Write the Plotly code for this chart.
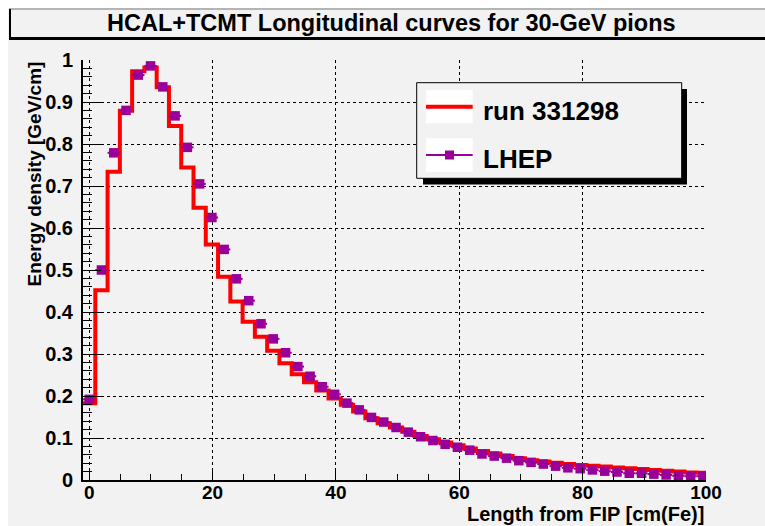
import plotly.graph_objects as go
import numpy as np

# ---------------- data ----------------
depth = [0.00, 1.99, 3.98, 5.97, 7.96, 9.95, 11.94, 13.93, 15.92, 17.91,
         19.90, 21.89, 23.88, 25.87, 27.86, 29.85, 31.84, 33.83, 35.82, 37.81,
         39.80, 41.79, 43.78, 45.77, 47.76, 49.75, 51.74, 53.73, 55.72, 57.71,
         59.70, 61.69, 63.68, 65.67, 67.66, 69.65, 71.64, 73.63, 75.62, 77.61,
         79.60, 81.59, 83.58, 85.57, 87.56, 89.55, 91.54, 93.53, 95.52, 97.51,
         99.50]

run_331298 = [0.183, 0.452, 0.734, 0.879, 0.973, 0.982, 0.935, 0.843, 0.744, 0.648,
              0.561, 0.484, 0.425, 0.377, 0.341, 0.308, 0.278, 0.252, 0.233, 0.213,
              0.194, 0.179, 0.163, 0.147, 0.135, 0.125, 0.115, 0.105, 0.097, 0.089,
              0.083, 0.075, 0.069, 0.063, 0.057, 0.052, 0.047, 0.044, 0.041, 0.038,
              0.036, 0.034, 0.032, 0.030, 0.028, 0.026, 0.024, 0.022, 0.020, 0.018,
              0.017]

lhep = [0.192, 0.500, 0.779, 0.880, 0.964, 0.986, 0.936, 0.867, 0.792, 0.705,
        0.625, 0.549, 0.479, 0.427, 0.372, 0.336, 0.303, 0.270, 0.247, 0.222,
        0.204, 0.183, 0.167, 0.149, 0.138, 0.125, 0.114, 0.103, 0.094, 0.085,
        0.078, 0.071, 0.062, 0.057, 0.052, 0.046, 0.042, 0.038, 0.033, 0.029,
        0.027, 0.024, 0.021, 0.019, 0.016, 0.016, 0.014, 0.012, 0.010, 0.009,
        0.009]

x_ticks = [0, 20, 40, 60, 80, 100]
x_ticktext = ["0", "20", "40", "60", "80", "100"]
y_ticks = [0, 0.1, 0.2, 0.3, 0.4, 0.5, 0.6, 0.7, 0.8, 0.9, 1.0]
y_ticktext = ["0", "0.1", "0.2", "0.3", "0.4", "0.5", "0.6", "0.7", "0.8", "0.9", "1"]

title_text = "HCAL+TCMT Longitudinal curves for 30-GeV pions"
x_title = "Length from FIP [cm(Fe)]"
y_title = "Energy density [GeV/cm]"
legend_names = ["run 331298", "LHEP"]

# ---------------- layout geometry ----------------
W, H = 765, 526
L, R, T, B = 83, 706, 60, 480   # plot area in pixels
GRAY = "#f2f2f2"
PURPLE = "#990099"
FONT = "Liberation Sans"


def px(x):
    return (x - L) / (R - L)


def py(y):
    return (B - y) / (B - T)


# histogram edges from the bin centres
d = np.array(depth)
mids = (d[:-1] + d[1:]) / 2
half = (d[1] - d[0]) / 2
edges = np.concatenate([[d[0] - half], mids, [d[-1] + half]])
yr = list(run_331298) + [run_331298[-1]]

fig = go.Figure()
fig.add_trace(go.Scatter(
    x=edges, y=yr, mode="lines", line=dict(color="red", width=4, shape="hv"),
    showlegend=False, hoverinfo="skip"))
fig.add_trace(go.Scatter(
    x=depth, y=lhep, mode="markers",
    marker=dict(symbol="square", size=9.5, color=PURPLE, line=dict(width=0)),
    error_x=dict(type="data", array=[half] * len(depth), color=PURPLE,
                 thickness=2, width=0),
    showlegend=False))

shapes = []
# white strips on top / left
shapes.append(dict(type="rect", xref="paper", yref="paper", x0=px(0), x1=px(W), y0=py(0), y1=py(8),
                   fillcolor="white", line=dict(width=0), layer="above"))
shapes.append(dict(type="rect", xref="paper", yref="paper", x0=px(0), x1=px(8), y0=py(H), y1=py(0),
                   fillcolor="white", line=dict(width=0), layer="above"))
# title box
shapes.append(dict(type="line", xref="paper", yref="paper", x0=px(9), x1=px(W + 5), y0=py(9), y1=py(9),
                   line=dict(color="#777777", width=1)))
shapes.append(dict(type="line", xref="paper", yref="paper", x0=px(10), x1=px(10), y0=py(9), y1=py(39),
                   line=dict(color="black", width=2)))
shapes.append(dict(type="line", xref="paper", yref="paper", x0=px(9), x1=px(W + 5), y0=py(38.5), y1=py(38.5),
                   line=dict(color="black", width=3)))
# legend shadow + box
shapes.append(dict(type="rect", xref="paper", yref="paper", x0=px(423), x1=px(687), y0=py(184.5), y1=py(89),
                   fillcolor="black", line=dict(width=0)))
shapes.append(dict(type="rect", xref="paper", yref="paper", x0=px(416.7), x1=px(681.7), y0=py(178.3), y1=py(82.7),
                   fillcolor=GRAY, line=dict(color="black", width=1)))
shapes.append(dict(type="rect", xref="paper", yref="paper", x0=px(426), x1=px(472.7), y0=py(123.3), y1=py(90),
                   fillcolor="white", line=dict(width=0)))
shapes.append(dict(type="rect", xref="paper", yref="paper", x0=px(426), x1=px(472.7), y0=py(171.7), y1=py(138.3),
                   fillcolor="white", line=dict(width=0)))
shapes.append(dict(type="line", xref="paper", yref="paper", x0=px(426), x1=px(472.7), y0=py(106.7), y1=py(106.7),
                   line=dict(color="red", width=4)))
shapes.append(dict(type="line", xref="paper", yref="paper", x0=px(426), x1=px(472.7), y0=py(155), y1=py(155),
                   line=dict(color=PURPLE, width=2)))
shapes.append(dict(type="rect", xref="paper", yref="paper", x0=px(445), x1=px(454), y0=py(159.5), y1=py(150.5),
                   fillcolor=PURPLE, line=dict(width=0)))

annotations = [
    dict(text=title_text, xref="paper", yref="paper", x=px(391), y=py(22.5),
         xanchor="center", yanchor="middle", showarrow=False,
         font=dict(family=FONT, size=23.5, color="black", weight="bold")),
    dict(text=y_title, xref="paper", yref="paper", x=px(34), y=1.0, textangle=-90,
         xanchor="center", yanchor="top", showarrow=False,
         font=dict(family=FONT, size=19, color="black", weight="bold")),
    dict(text=x_title, xref="paper", yref="paper", x=1.0, y=py(514),
         xanchor="right", yanchor="middle", showarrow=False,
         font=dict(family=FONT, size=20, color="black", weight="bold")),
    dict(text=legend_names[0], xref="paper", yref="paper", x=px(481), y=py(111),
         xanchor="left", yanchor="middle", showarrow=False,
         font=dict(family=FONT, size=26, color="black", weight="bold")),
    dict(text=legend_names[1], xref="paper", yref="paper", x=px(481), y=py(159),
         xanchor="left", yanchor="middle", showarrow=False,
         font=dict(family=FONT, size=26, color="black", weight="bold")),
]

fig.update_layout(
    width=W, height=H, autosize=False,
    margin=dict(l=L, r=W - R, t=T, b=H - B, pad=0),
    paper_bgcolor=GRAY, plot_bgcolor=GRAY,
    showlegend=False,
    shapes=shapes, annotations=annotations,
    font=dict(family=FONT, color="black"),
    xaxis=dict(range=[-1, 100], tickvals=x_ticks, ticktext=x_ticktext,
               ticks="inside", ticklen=12, tickwidth=1, tickcolor="black",
               showline=True, linecolor="black", linewidth=2, mirror=False,
               showgrid=True, gridcolor="black", gridwidth=1, griddash="dot",
               zeroline=False, ticklabelstandoff=-6,
               tickfont=dict(family=FONT, size=19, color="black", weight="bold"),
               minor=dict(dtick=5, ticks="inside", ticklen=6, tickcolor="black", showgrid=False)),
    yaxis=dict(range=[0, 1], tickvals=y_ticks, ticktext=y_ticktext,
               ticks="inside", ticklen=18, tickwidth=1, tickcolor="black",
               showline=True, linecolor="black", linewidth=2, mirror=False,
               showgrid=True, gridcolor="black", gridwidth=1, griddash="dot",
               zeroline=False, ticklabelstandoff=4,
               tickfont=dict(family=FONT, size=20, color="black", weight="bold"),
               minor=dict(dtick=0.02, ticks="inside", ticklen=9, tickcolor="black", showgrid=False)),
)

fig.write_html("out.html")
